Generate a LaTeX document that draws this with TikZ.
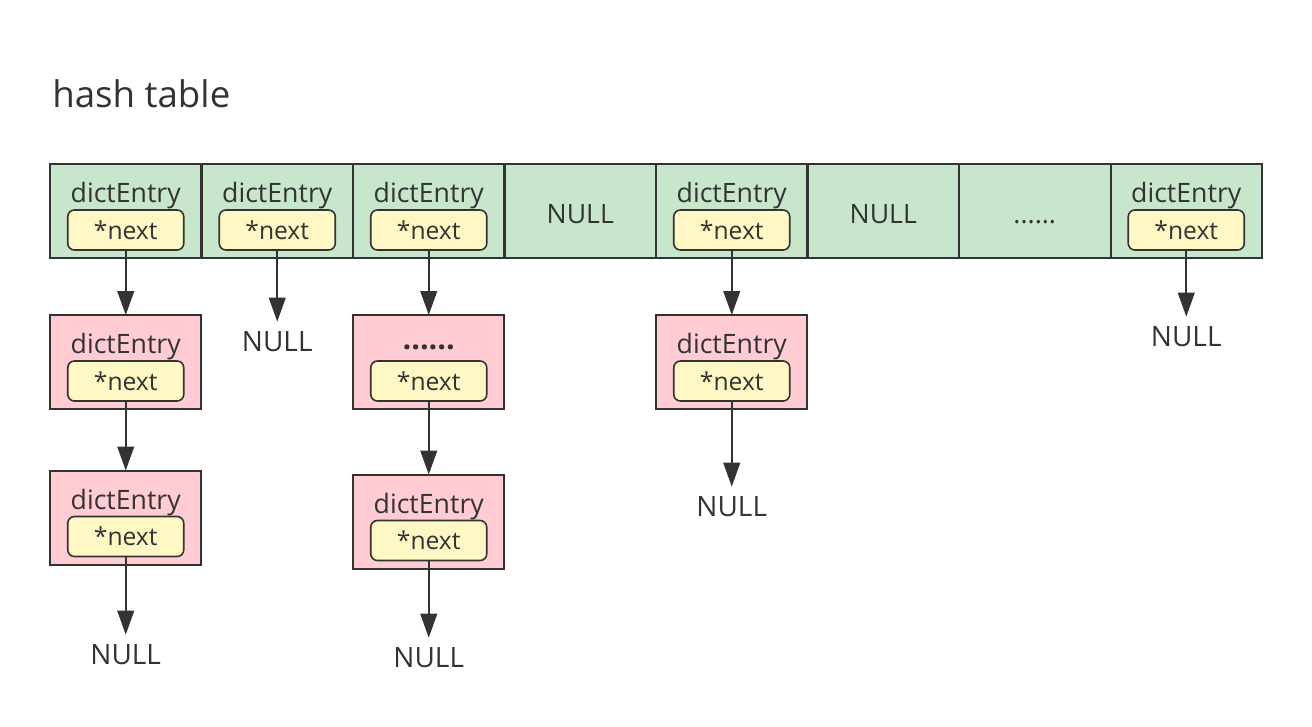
\documentclass[tikz,border=0pt]{standalone}
\usepackage{fontspec}
\setmainfont{Open Sans}
\usetikzlibrary{arrows.meta}
\definecolor{tg}{RGB}{199,230,203}
\definecolor{pk}{RGB}{255,204,212}
\definecolor{yl}{RGB}{255,247,196}
\definecolor{ln}{RGB}{51,51,51}
\definecolor{tx}{RGB}{51,51,51}
\tikzset{
  cell/.style={draw=ln, fill=tg, line width=1.5pt, minimum width=113.6pt, minimum height=70.5pt, inner sep=0pt, outer sep=0pt},
  entrybox/.style={draw=ln, fill=pk, line width=1.5pt, minimum width=113.6pt, minimum height=70.5pt, inner sep=0pt, outer sep=0pt},
  nextbox/.style={draw=ln, fill=yl, rounded corners=5pt, line width=1.2pt, minimum width=87pt, minimum height=30pt, inner sep=0pt, outer sep=0pt, text=tx, font=\fontsize{18.5}{20}\selectfont},
  lbl/.style={text=tx, inner sep=0pt, font=\fontsize{20}{22}\selectfont},
  nulltxt/.style={text=tx, inner sep=0pt, anchor=north, font=\fontsize{21}{24}\selectfont},
  arr/.style={draw=ln, line width=1.5pt, -{Triangle[length=18pt,width=12.5pt]}},
}
\begin{document}
\begin{tikzpicture}[x=0.75pt,y=-0.75pt]
\useasboundingbox (0,0) rectangle (1312,726);
\node[text=tx, inner sep=0pt, anchor=base west, font=\fontsize{27.5}{30}\selectfont] (title) at (52,107) {hash table};
% table
\node[cell] (c1) at (125.75,211) {};
\node[cell] (c2) at (277.25,211) {};
\node[cell] (c3) at (428.75,211) {};
\node[cell] (c4) at (580.25,211) {};
\node[cell] (c5) at (731.75,211) {};
\node[cell] (c6) at (883.25,211) {};
\node[cell] (c7) at (1034.75,211) {};
\node[cell] (c8) at (1186.25,211) {};
\node[lbl] (c1l) at (125.75,196) {dictEntry};
\node[lbl] (c2l) at (277.25,196) {dictEntry};
\node[lbl] (c3l) at (428.75,196) {dictEntry};
\node[lbl] (c5l) at (731.75,196) {dictEntry};
\node[lbl] (c8l) at (1186.25,196) {dictEntry};
\node[lbl, anchor=base] (c4l) at (580.25,223) {NULL};
\node[lbl, anchor=base] (c6l) at (883.25,223) {NULL};
\node[lbl, anchor=base] (c7l) at (1034.75,223) {......};
\node[nextbox] (c1n) at (125.75,230) {*next};
\node[nextbox] (c2n) at (277.25,230) {*next};
\node[nextbox] (c3n) at (428.75,230) {*next};
\node[nextbox] (c5n) at (731.75,230) {*next};
\node[nextbox] (c8n) at (1186.25,230) {*next};
% chain 1
\node[entrybox] (e11) at (125.75,362) {};
\node[lbl] (e11l) at (125.75,347) {dictEntry};
\node[nextbox] (e11n) at (125.75,381) {*next};
\node[entrybox] (e12) at (125.75,517.5) {};
\node[lbl] (e12l) at (125.75,502.5) {dictEntry};
\node[nextbox] (e12n) at (125.75,536.5) {*next};
\node[nulltxt] (n1) at (125.75,644) {NULL};
% chain 2
\node[nulltxt] (n2) at (277.25,331) {NULL};
% chain 3
\node[entrybox] (e31) at (428.75,362) {};
\node[lbl, anchor=base, font=\fontsize{23}{25}\selectfont\bfseries] (e31l) at (428.75,349) {......};
\node[nextbox] (e31n) at (428.75,381) {*next};
\node[entrybox] (e32) at (428.75,521.5) {};
\node[lbl] (e32l) at (428.75,506.5) {dictEntry};
\node[nextbox] (e32n) at (428.75,540.5) {*next};
\node[nulltxt] (n3) at (428.75,647) {NULL};
% chain 5
\node[entrybox] (e51) at (731.75,362) {};
\node[lbl] (e51l) at (731.75,347) {dictEntry};
\node[nextbox] (e51n) at (731.75,381) {*next};
\node[nulltxt] (n5) at (731.75,496) {NULL};
% chain 8
\node[nulltxt] (n8) at (1186.25,326) {NULL};
% arrows
\draw[arr] (c1n.south) -- (e11.north);
\draw[arr] (e11n.south) -- (e12.north);
\draw[arr] (e12n.south) -- ([yshift=7pt]n1.north);
\draw[arr] (c2n.south) -- ([yshift=7pt]n2.north);
\draw[arr] (c3n.south) -- (e31.north);
\draw[arr] (e31n.south) -- (e32.north);
\draw[arr] (e32n.south) -- ([yshift=7pt]n3.north);
\draw[arr] (c5n.south) -- (e51.north);
\draw[arr] (e51n.south) -- ([yshift=7pt]n5.north);
\draw[arr] (c8n.south) -- ([yshift=7pt]n8.north);
\end{tikzpicture}
\end{document}
